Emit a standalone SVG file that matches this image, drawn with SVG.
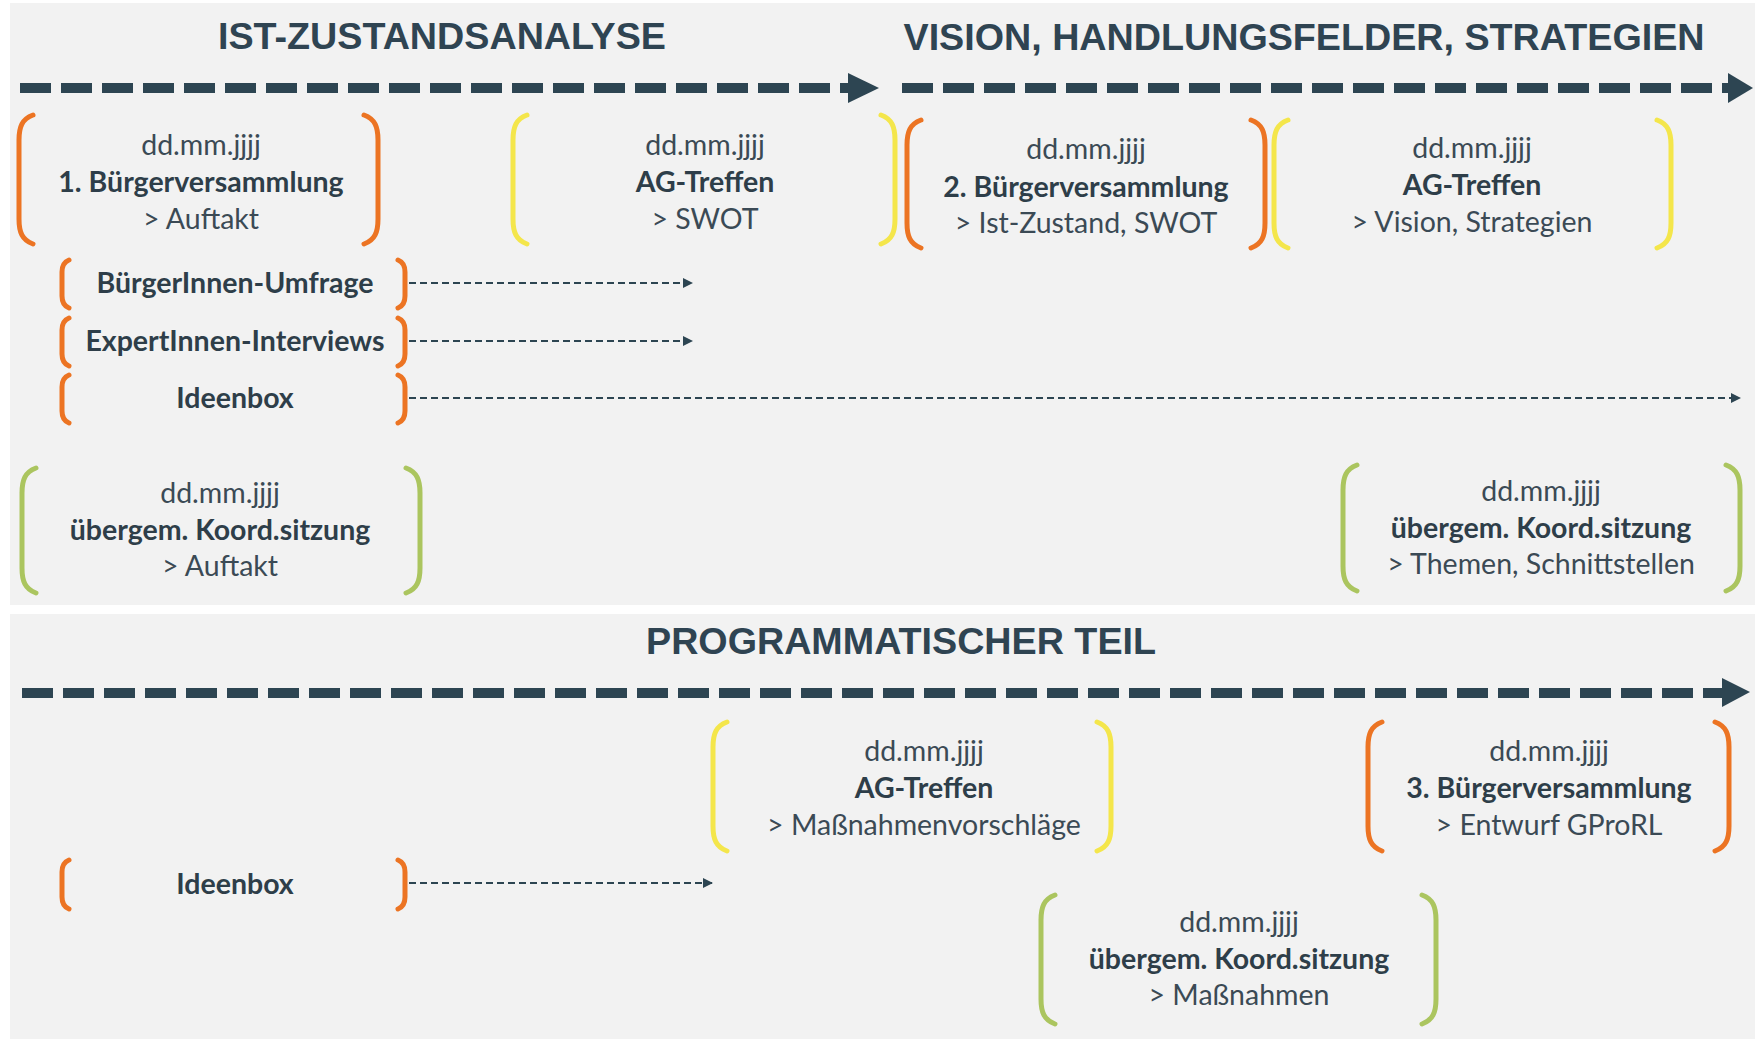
<svg xmlns="http://www.w3.org/2000/svg" width="1755" height="1039" viewBox="0 0 1755 1039">
<style>
.panel{fill:#f2f2f2}
.head{font-family:"Liberation Sans",Arial,sans-serif;font-weight:bold;font-size:36px;fill:#2f4452;text-anchor:middle}
.t{font-family:Lato,"Open Sans",sans-serif;font-size:28.5px;fill:#3b4a55;text-anchor:middle}
.b{font-weight:bold;fill:#2e3e49}
.br{fill:none;stroke-width:5;stroke-linecap:round}
.or{stroke:#ec7423}
.ye{stroke:#f4e64b}
.gr{stroke:#abc55f}
.tl{stroke:#2d4552;stroke-width:10;stroke-dasharray:31 10;fill:none}
.ah{fill:#2d4552}
.cn{stroke:#2d4552;stroke-width:2;stroke-dasharray:7 4;fill:none;marker-end:url(#sm)}
</style>
<defs>
<marker id="sm" viewBox="0 0 10 10" refX="9" refY="5" markerWidth="10" markerHeight="10" markerUnits="userSpaceOnUse" orient="auto">
<path d="M0,0 L10,5 L0,10 z" fill="#2d4552"/>
</marker>
</defs>
<rect width="1755" height="1039" fill="#ffffff"/>
<rect class="panel" x="10" y="3" width="1745" height="602"/>
<rect class="panel" x="10" y="614" width="1745" height="425"/>

<g id="headings">
<text class="head" x="442" y="49" textLength="448" lengthAdjust="spacingAndGlyphs">IST-ZUSTANDSANALYSE</text>
<text class="head" x="1304" y="50" textLength="801" lengthAdjust="spacingAndGlyphs">VISION, HANDLUNGSFELDER,  STRATEGIEN</text>
<text class="head" x="901" y="654" textLength="510" lengthAdjust="spacingAndGlyphs">PROGRAMMATISCHER TEIL</text>
</g>

<g id="timelines">
<line class="tl" x1="20" y1="88" x2="850" y2="88"/>
<polygon class="ah" points="848,73 879,88 848,103"/>
<line class="tl" x1="902" y1="88" x2="1730" y2="88"/>
<polygon class="ah" points="1728,73 1753,88 1728,103"/>
<line class="tl" x1="22" y1="693" x2="1724" y2="693"/>
<polygon class="ah" points="1722,678 1750,692 1722,707"/>
</g>

<g id="connectors">
<line class="cn" x1="409" y1="283" x2="692" y2="283"/>
<line class="cn" x1="409" y1="341" x2="692" y2="341"/>
<line class="cn" x1="409" y1="398" x2="1740" y2="398"/>
<line class="cn" x1="409" y1="883" x2="712" y2="883"/>
</g>

<g id="n1">
<path class="br or" d="M33,115 C22,119 19,127 19,140 L19,219 C19,232 22,240 33,244"/>
<path class="br or" d="M364,115 C375,119 378,127 378,140 L378,219 C378,232 375,240 364,244"/>
<text class="t" x="201" y="155">dd.mm.jjjj</text>
<text class="t b" x="201" y="192">1. Bürgerversammlung</text>
<text class="t" x="201" y="229">&gt; Auftakt</text>
</g>

<g id="n2">
<path class="br ye" d="M527,115 C516,119 513,127 513,140 L513,219 C513,232 516,240 527,244"/>
<path class="br ye" d="M881,115 C892,119 895,127 895,140 L895,219 C895,232 892,240 881,244"/>
<text class="t" x="705" y="155">dd.mm.jjjj</text>
<text class="t b" x="705" y="192">AG-Treffen</text>
<text class="t" x="705" y="229">&gt; SWOT</text>
</g>

<g id="n3">
<path class="br or" d="M921,120 C910,124 907,132 907,145 L907,223 C907,236 910,244 921,248"/>
<path class="br or" d="M1251,120 C1262,124 1265,132 1265,145 L1265,223 C1265,236 1262,244 1251,248"/>
<text class="t" x="1086" y="159">dd.mm.jjjj</text>
<text class="t b" x="1086" y="197">2. Bürgerversammlung</text>
<text class="t" x="1086" y="233">&gt; Ist-Zustand, SWOT</text>
</g>

<g id="n4">
<path class="br ye" d="M1288,120 C1277,124 1274,132 1274,145 L1274,223 C1274,236 1277,244 1288,248"/>
<path class="br ye" d="M1657,120 C1668,124 1671,132 1671,145 L1671,223 C1671,236 1668,244 1657,248"/>
<text class="t" x="1472" y="158">dd.mm.jjjj</text>
<text class="t b" x="1472" y="195">AG-Treffen</text>
<text class="t" x="1472" y="232">&gt; Vision, Strategien</text>
</g>

<g id="n5">
<path class="br or" d="M69,260 C64,262 62,266 62,272 L62,296 C62,302 64,306 69,308"/>
<path class="br or" d="M398,260 C403,262 405,266 405,272 L405,296 C405,302 403,306 398,308"/>
<text class="t b" x="235" y="293">BürgerInnen-Umfrage</text>
</g>

<g id="n6">
<path class="br or" d="M69,318 C64,320 62,324 62,330 L62,354 C62,360 64,364 69,366"/>
<path class="br or" d="M398,318 C403,320 405,324 405,330 L405,354 C405,360 403,364 398,366"/>
<text class="t b" x="235" y="351">ExpertInnen-Interviews</text>
</g>

<g id="n7">
<path class="br or" d="M69,375 C64,377 62,381 62,387 L62,411 C62,417 64,421 69,423"/>
<path class="br or" d="M398,375 C403,377 405,381 405,387 L405,411 C405,417 403,421 398,423"/>
<text class="t b" x="235" y="408">Ideenbox</text>
</g>

<g id="n8">
<path class="br gr" d="M36,468 C25,472 22,480 22,493 L22,568 C22,581 25,589 36,593"/>
<path class="br gr" d="M406,468 C417,472 420,480 420,493 L420,568 C420,581 417,589 406,593"/>
<text class="t" x="220" y="503">dd.mm.jjjj</text>
<text class="t b" x="220" y="540">übergem. Koord.sitzung</text>
<text class="t" x="220" y="576">&gt; Auftakt</text>
</g>

<g id="n9">
<path class="br gr" d="M1357,465 C1346,469 1343,477 1343,490 L1343,566 C1343,579 1346,587 1357,591"/>
<path class="br gr" d="M1726,465 C1737,469 1740,477 1740,490 L1740,566 C1740,579 1737,587 1726,591"/>
<text class="t" x="1541" y="501">dd.mm.jjjj</text>
<text class="t b" x="1541" y="538">übergem. Koord.sitzung</text>
<text class="t" x="1541" y="574">&gt; Themen, Schnittstellen</text>
</g>

<g id="n10">
<path class="br ye" d="M727,722 C716,726 713,734 713,747 L713,826 C713,839 716,847 727,851"/>
<path class="br ye" d="M1097,722 C1108,726 1111,734 1111,747 L1111,826 C1111,839 1108,847 1097,851"/>
<text class="t" x="924" y="761">dd.mm.jjjj</text>
<text class="t b" x="924" y="798">AG-Treffen</text>
<text class="t" x="924" y="835">&gt; Maßnahmenvorschläge</text>
</g>

<g id="n11">
<path class="br or" d="M1382,722 C1371,726 1368,734 1368,747 L1368,826 C1368,839 1371,847 1382,851"/>
<path class="br or" d="M1715,722 C1726,726 1729,734 1729,747 L1729,826 C1729,839 1726,847 1715,851"/>
<text class="t" x="1549" y="761">dd.mm.jjjj</text>
<text class="t b" x="1549" y="798">3. Bürgerversammlung</text>
<text class="t" x="1549" y="835">&gt; Entwurf GProRL</text>
</g>

<g id="n12">
<path class="br or" d="M69,860 C64,862 62,866 62,872 L62,897 C62,903 64,907 69,909"/>
<path class="br or" d="M398,860 C403,862 405,866 405,872 L405,897 C405,903 403,907 398,909"/>
<text class="t b" x="235" y="894">Ideenbox</text>
</g>

<g id="n13">
<path class="br gr" d="M1055,895 C1044,899 1041,907 1041,920 L1041,999 C1041,1012 1044,1020 1055,1024"/>
<path class="br gr" d="M1422,895 C1433,899 1436,907 1436,920 L1436,999 C1436,1012 1433,1020 1422,1024"/>
<text class="t" x="1239" y="932">dd.mm.jjjj</text>
<text class="t b" x="1239" y="969">übergem. Koord.sitzung</text>
<text class="t" x="1239" y="1005">&gt; Maßnahmen</text>
</g>
</svg>
